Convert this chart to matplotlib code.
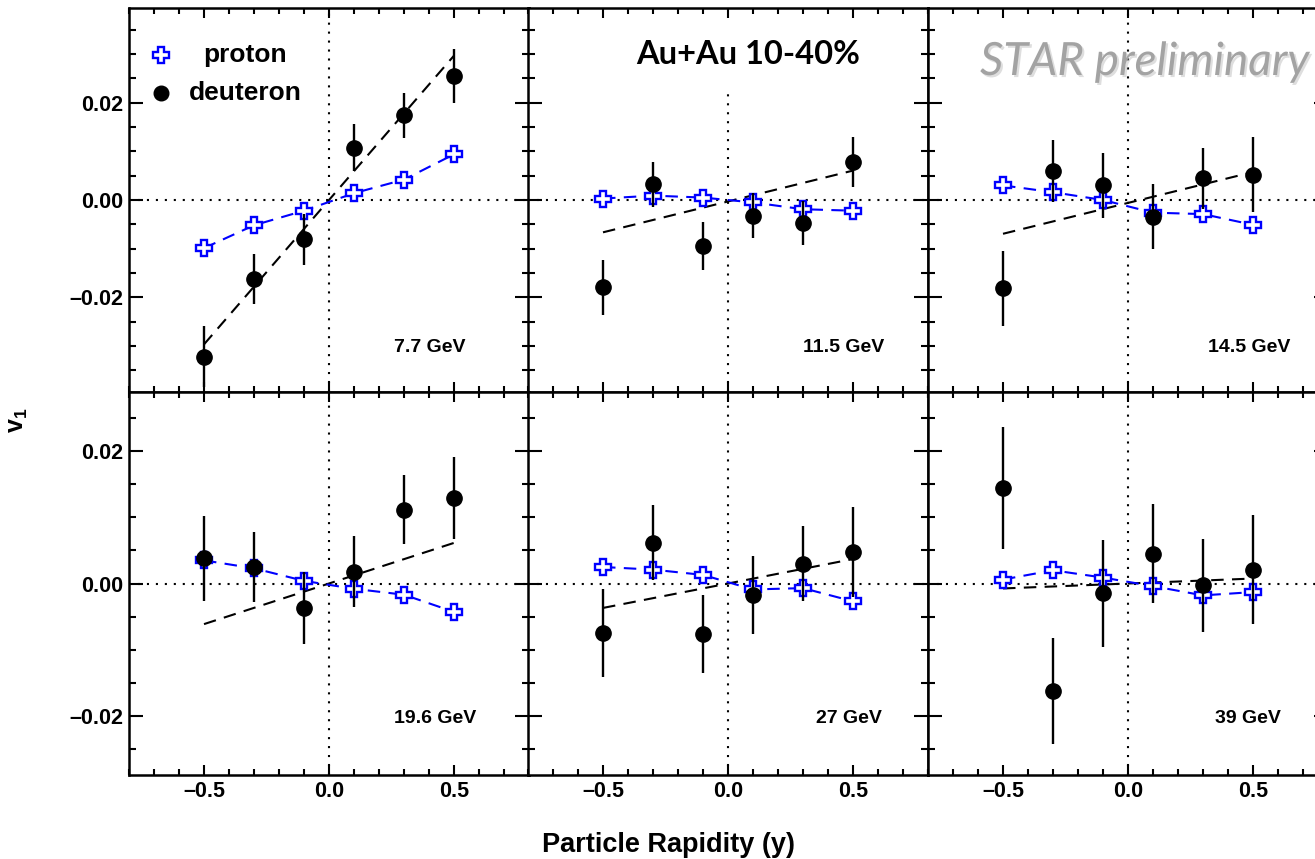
import numpy as np
import matplotlib.pyplot as plt
import matplotlib.patheffects as pe
from matplotlib.ticker import MultipleLocator

plt.rcParams['font.family'] = ['Liberation Sans', 'DejaVu Sans']
plt.rcParams['font.weight'] = 'bold'
plt.rcParams['mathtext.fontset'] = 'custom'
plt.rcParams['mathtext.bf'] = 'Liberation Sans:bold'
plt.rcParams['mathtext.rm'] = 'Liberation Sans:bold'

# rapidity bins and collision energies
rapidity = [-0.5, -0.3, -0.1, 0.1, 0.3, 0.5]
energies = ['7.7 GeV', '11.5 GeV', '14.5 GeV', '19.6 GeV', '27 GeV', '39 GeV']

# proton v1 per energy
proton_v1 = [
    [-0.0099, -0.0052, -0.0022, 0.0014, 0.0042, 0.0094],
    [0.0003, 0.0009, 0.0005, -0.0005, -0.0019, -0.0022],
    [0.0030, 0.0016, 0.0000, -0.0026, -0.0029, -0.0051],
    [0.0035, 0.0023, 0.0004, -0.0008, -0.0017, -0.0043],
    [0.0025, 0.0021, 0.0013, -0.0009, -0.0007, -0.0027],
    [0.0006, 0.0020, 0.0009, -0.0004, -0.0018, -0.0013],
]

# deuteron v1 and statistical errors per energy
deuteron_v1 = [
    [-0.0322, -0.0162, -0.0081, 0.0108, 0.0174, 0.0255],
    [-0.0180, 0.0032, -0.0095, -0.0032, -0.0048, 0.0078],
    [-0.0182, 0.0059, 0.0030, -0.0034, 0.0045, 0.0052],
    [0.0038, 0.0025, -0.0037, 0.0018, 0.0112, 0.0130],
    [-0.0075, 0.0062, -0.0076, -0.0018, 0.0030, 0.0048],
    [0.0145, -0.0163, -0.0015, 0.0045, -0.0003, 0.0021],
]
deuteron_err = [
    [0.0062, 0.0051, 0.0052, 0.0049, 0.0046, 0.0056],
    [0.0056, 0.0047, 0.0049, 0.0046, 0.0045, 0.0052],
    [0.0077, 0.0064, 0.0067, 0.0066, 0.0063, 0.0077],
    [0.0064, 0.0053, 0.0054, 0.0054, 0.0052, 0.0062],
    [0.0067, 0.0057, 0.0059, 0.0059, 0.0057, 0.0068],
    [0.0092, 0.0080, 0.0081, 0.0075, 0.0071, 0.0083],
]

# linear fit to deuteron v1: intercept + slope * y
fit_intercept = [0.0, -0.0003, -0.0006, 0.0, 0.0, 0.0]
fit_slope = [0.0594, 0.0127, 0.0127, 0.0123, 0.0074, 0.0015]

fig = plt.figure(figsize=(13.15, 8.59), dpi=100)

W, H = 1315.0, 859.0
col_left = [129, 528, 928]
row_top = [8, 392]
row_bot = [392, 775]
ylims = [0.0395, 0.029]
label_x = [0.26, 0.30, 0.32, 0.26, 0.35, 0.35]
label_y = [-0.0304, -0.0304, -0.0304, -0.0205, -0.0205, -0.0205]
vline_top = [1.0, 0.79, 1.0, 1.0, 1.0, 1.0]

axes = []
for i in range(6):
    r, c = divmod(i, 3)
    ax = fig.add_axes([col_left[c] / W, (H - row_bot[r]) / H,
                       400 / W, (row_bot[r] - row_top[r]) / H])
    axes.append(ax)
    ax.set_xlim(-0.8, 0.8)
    ax.set_ylim(-ylims[r], ylims[r])

    ax.axhline(0, color='black', lw=1.5, ls=(0, (1, 3.3)), zorder=1)
    ax.axvline(0, ymax=vline_top[i], color='black', lw=1.5, ls=(0, (1, 3.3)), zorder=1)

    # deuteron fit line
    fx = np.array([rapidity[0], rapidity[-1]])
    ax.plot(fx, fit_intercept[i] + fit_slope[i] * fx, color='black', lw=1.5,
            dashes=(6, 4), zorder=2)

    # proton
    ax.plot(rapidity, proton_v1[i], color='blue', lw=1.5, dashes=(6, 4),
            marker='P', markersize=12, markerfacecolor='white',
            markeredgecolor='blue', markeredgewidth=1.7, zorder=3)

    # deuteron
    ax.errorbar(rapidity, deuteron_v1[i], yerr=deuteron_err[i], fmt='o',
                color='black', markersize=11, elinewidth=1.7, capsize=0, zorder=4)

    ax.text(label_x[i], label_y[i], energies[i], fontsize=14, fontweight='bold',
            ha='left', va='center')

    ax.xaxis.set_major_locator(MultipleLocator(0.5))
    ax.xaxis.set_minor_locator(MultipleLocator(0.1))
    ax.yaxis.set_major_locator(MultipleLocator(0.02))
    ax.yaxis.set_minor_locator(MultipleLocator(0.005))
    ax.tick_params(which='both', direction='in', top=True, right=True, width=1.5)
    ax.tick_params(axis='y', which='major', length=10)
    ax.tick_params(axis='y', which='minor', length=5)
    ax.tick_params(axis='x', which='major', length=7.5)
    ax.tick_params(axis='x', which='minor', length=4.5)
    ax.tick_params(labelsize=15.5, pad=4)
    ax.xaxis.set_major_formatter(plt.FuncFormatter(lambda v, p: f'{v:.1f}'.replace('-', '\u2013')))
    ax.yaxis.set_major_formatter(plt.FuncFormatter(lambda v, p: f'{v:.2f}'.replace('-', '\u2013')))
    if c != 0:
        ax.tick_params(labelleft=False)
    if r == 0:
        ax.tick_params(labelbottom=False)
    for s in ax.spines.values():
        s.set_linewidth(1.8)

# legend in first panel
ax0 = axes[0]
ax0.plot([0.08], [0.878], transform=ax0.transAxes, marker='P', markersize=12,
         markerfacecolor='white', markeredgecolor='blue', markeredgewidth=1.7,
         ls='none', clip_on=False)
ax0.plot([0.08], [0.779], transform=ax0.transAxes, marker='o', markersize=10.5,
         color='black', ls='none', clip_on=False)
ax0.text(0.29, 0.878, 'proton', transform=ax0.transAxes, fontsize=19,
         fontweight='bold', ha='center', va='center')
ax0.text(0.29, 0.779, 'deuteron', transform=ax0.transAxes, fontsize=19,
         fontweight='bold', ha='center', va='center')

fig.text(748 / W, (H - 55) / H, 'Au+Au 10-40%', fontsize=23.5, fontweight='bold',
         family=['Lato', 'DejaVu Sans'], ha='center', va='center')
fig.text(980 / W, (H - 62) / H, 'STAR preliminary', fontsize=33,
         family=['Lato', 'DejaVu Sans'], style='italic', fontweight='normal',
         color='#a3a3a3', ha='left', va='center',
         path_effects=[pe.withSimplePatchShadow(offset=(1.5, -1.5),
                                                shadow_rgbFace='#c8c8c8', alpha=0.6)])

fig.text(669 / W, (H - 845) / H, 'Particle Rapidity (y)', fontsize=19.5,
         fontweight='bold', ha='center', va='center')
fig.text(18 / W, (H - 420) / H, r'$\mathbf{v}_\mathbf{1}$', fontsize=18,
         rotation=90, ha='center', va='center')

fig.savefig('out.png', dpi=100)
